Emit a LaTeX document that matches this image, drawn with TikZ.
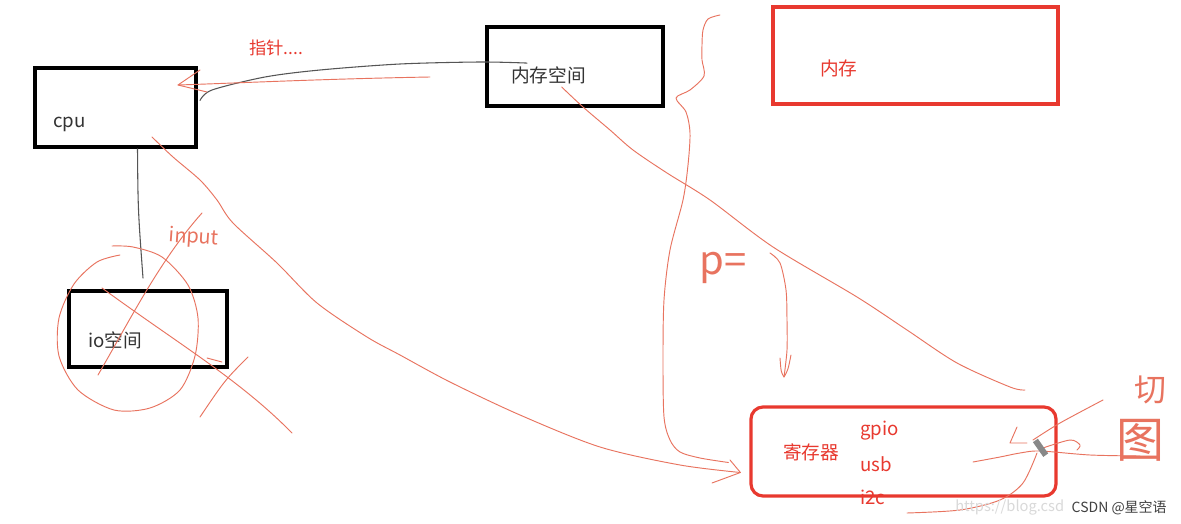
\documentclass[tikz,border=0pt]{standalone}
\usepackage{fontspec}
\setmainfont{Noto Sans CJK SC}
\usetikzlibrary{calc}
\definecolor{penred}{HTML}{E8392F}
\definecolor{handred}{HTML}{E8735F}
\definecolor{inkgray}{HTML}{555555}
\begin{document}
\begin{tikzpicture}[x=0.75pt,y=-0.75pt,
  blackbox/.style={draw=black, line width=3pt, inner sep=0pt},
  redbox/.style={draw=penred, line width=2.4pt, inner sep=0pt},
  lbl/.style={font=\fontsize{14}{16}\selectfont, text=black!80, inner sep=0pt},
  redlbl/.style={font=\fontsize{14}{16}\selectfont, text=penred, inner sep=0pt},
  handtext/.style={text=handred, inner sep=0pt},
  hand/.style={draw=handred, line width=0.7pt, line cap=round, line join=round},
  grayline/.style={draw=inkgray, line width=0.8pt, line cap=round}]
\useasboundingbox (0,0) rectangle (1181,524);
\fill[white] (0,0) rectangle (1181,524);

% boxes
\node[blackbox, minimum width=120.75pt, minimum height=59.25pt] (cpu) at (115.5,107.5) {};
\node[lbl, anchor=west] (cpul) at (53,124) {cpu};
\node[blackbox, minimum width=132pt, minimum height=59.25pt] (mem) at (575,66.5) {};
\node[lbl, anchor=west] (meml) at (511,75) {内存空间};
\node[blackbox, minimum width=118.5pt, minimum height=57pt] (io) at (148,329) {};
\node[lbl, anchor=west] (iol) at (88,340) {io空间};
\node[redbox, minimum width=213.75pt, minimum height=72.75pt] (ram) at (915.5,55.5) {};
\node[redlbl, anchor=west] (raml) at (820,68) {内存};
\node[redbox, rounded corners=9pt, minimum width=228.75pt, minimum height=66.75pt] (reg) at (903.5,451.5) {};
\node[redlbl, anchor=west] (regl) at (783,452) {寄存器};
\node[redlbl, anchor=west] (gpio) at (860,431) {gpio};
\node[redlbl, anchor=west] (usb) at (860,464) {usb};
\node[redlbl, anchor=west] (i2c) at (860,497) {i2c};
\node[redlbl, anchor=west, font=\fontsize{13}{15}\selectfont] (ptr) at (249,48) {指针....};

% handwritten texts
\node[handtext, font=\fontsize{15}{16}\selectfont, rotate=-4] (inp) at (194,238) {input};
\node[handtext, font=\fontsize{30}{32}\selectfont] (peq) at (723,268) {p=};
\node[handtext, font=\fontsize{24}{26}\selectfont] (qie) at (1150,390) {切};
\node[handtext, font=\fontsize{36}{38}\selectfont] (tu) at (1140,440) {图};

% gray connectors
\coordinate (g0) at ($(cpu.east)+(2,-7)$);
\coordinate (g1) at ($(meml.north west)+(16,-3)$);
\draw[grayline] plot[smooth] coordinates {(g0) (212,90) (265,77) (320,70) (400,64) (480,62) (g1)};
\draw[grayline] ($(cpu.south)+(22,0)$) .. controls (138,210) .. ($(io.north)+(-5,-11)$);

% red pointer arrow
\coordinate (p0) at (430,77);
\coordinate (p1) at (178,85);
\draw[hand] (p0) .. controls (320,79) and (240,83) .. (p1);
\draw[hand] (200,70) -- (p1) -- (207,92);

% cpu -> register
\coordinate (c0) at ($(cpu.south east)+(-46,-12)$);
\coordinate (r0) at ($(reg.west)+(-9,21)$);
\draw[hand] plot[smooth] coordinates {(c0) (173,157) (200,180) (217,200) (233,223) (277,263) (317,303) (367,337) (400,355) (450,382) (520,415) (600,447) (680,465) (r0)};
\draw[hand] (730,460) -- (r0) -- (712,483);

% memory space -> register area
\coordinate (m0) at ($(meml.south)+(13,3)$);
\draw[hand] plot[smooth] coordinates {(m0) (583,107) (610,130) (633,150) (667,173) (710,200) (773,247) (857,297) (907,330) (957,363) (1010,387) (1025,390)};

% big brace curve into register
\coordinate (b1) at ($(reg.west)+(-21,11)$);
\draw[hand] plot[smooth] coordinates {(720,15) (708,19) (703,30) (702,45) (702,60) (704,76) (690,90) (676,98) (686,112) (690,133) (688,165) (683,200) (670,250) (664,300) (663,360) (664,417) (670,440) (680,452) (700,458) (b1)};

% ) arrow after p=
\draw[hand] plot[smooth] coordinates {(770,253) (780,263) (786,290) (787,320) (787,350) (784,377)};
\draw[hand] (780,358) .. controls (781,372) .. (784,377) .. controls (788,370) .. (791,355);

% circle round io space
\draw[hand] plot[smooth] coordinates {(120,255) (97,262) (74,284) (59,318) (59,356) (78,390) (114,410) (150,408) (180,390) (195,356) (198,318) (188,285) (162,257) (133,247) (112,246)};
% crossing strokes
\draw[hand] (102,288) .. controls (180,345) and (240,380) .. (292,433);
\draw[hand] (202,213) .. controls (160,260) and (130,320) .. (98,375);
\draw[hand] (207,358) -- (222,362);
\draw[hand] (248,357) .. controls (225,380) .. (200,417);

% scribbles by the register
\draw[hand] plot[smooth] coordinates {(973,462) (1000,457) (1020,453) (1040,451) (1090,455) (1140,456)};
\draw[hand] (1017,427) -- (1010,443) -- (1027,443);
\draw[hand] plot[smooth] coordinates {(1033,440) (1060,423) (1103,400)};
\draw[hand] plot[smooth] coordinates {(1043,448) (1070,440) (1080,445) (1077,450)};
\draw[hand] plot[smooth] coordinates {(1037,453) (1023,483) (1000,500) (960,510) (907,513)};
% pen cursor
\fill[inkgray!70, rotate around={-55:(1040,447)}] (1032,444) rectangle (1050,450);

% watermark
\node[anchor=west, text=gray!30, font=\fontsize{11}{13}\selectfont, inner sep=0pt] (url) at (955,507) {https://blog.csd};
\node[anchor=east, text=black!75, font=\fontsize{10.5}{12}\selectfont, inner sep=0pt] (wm) at (1167,508) {CSDN @星空语};
\end{tikzpicture}
\end{document}
